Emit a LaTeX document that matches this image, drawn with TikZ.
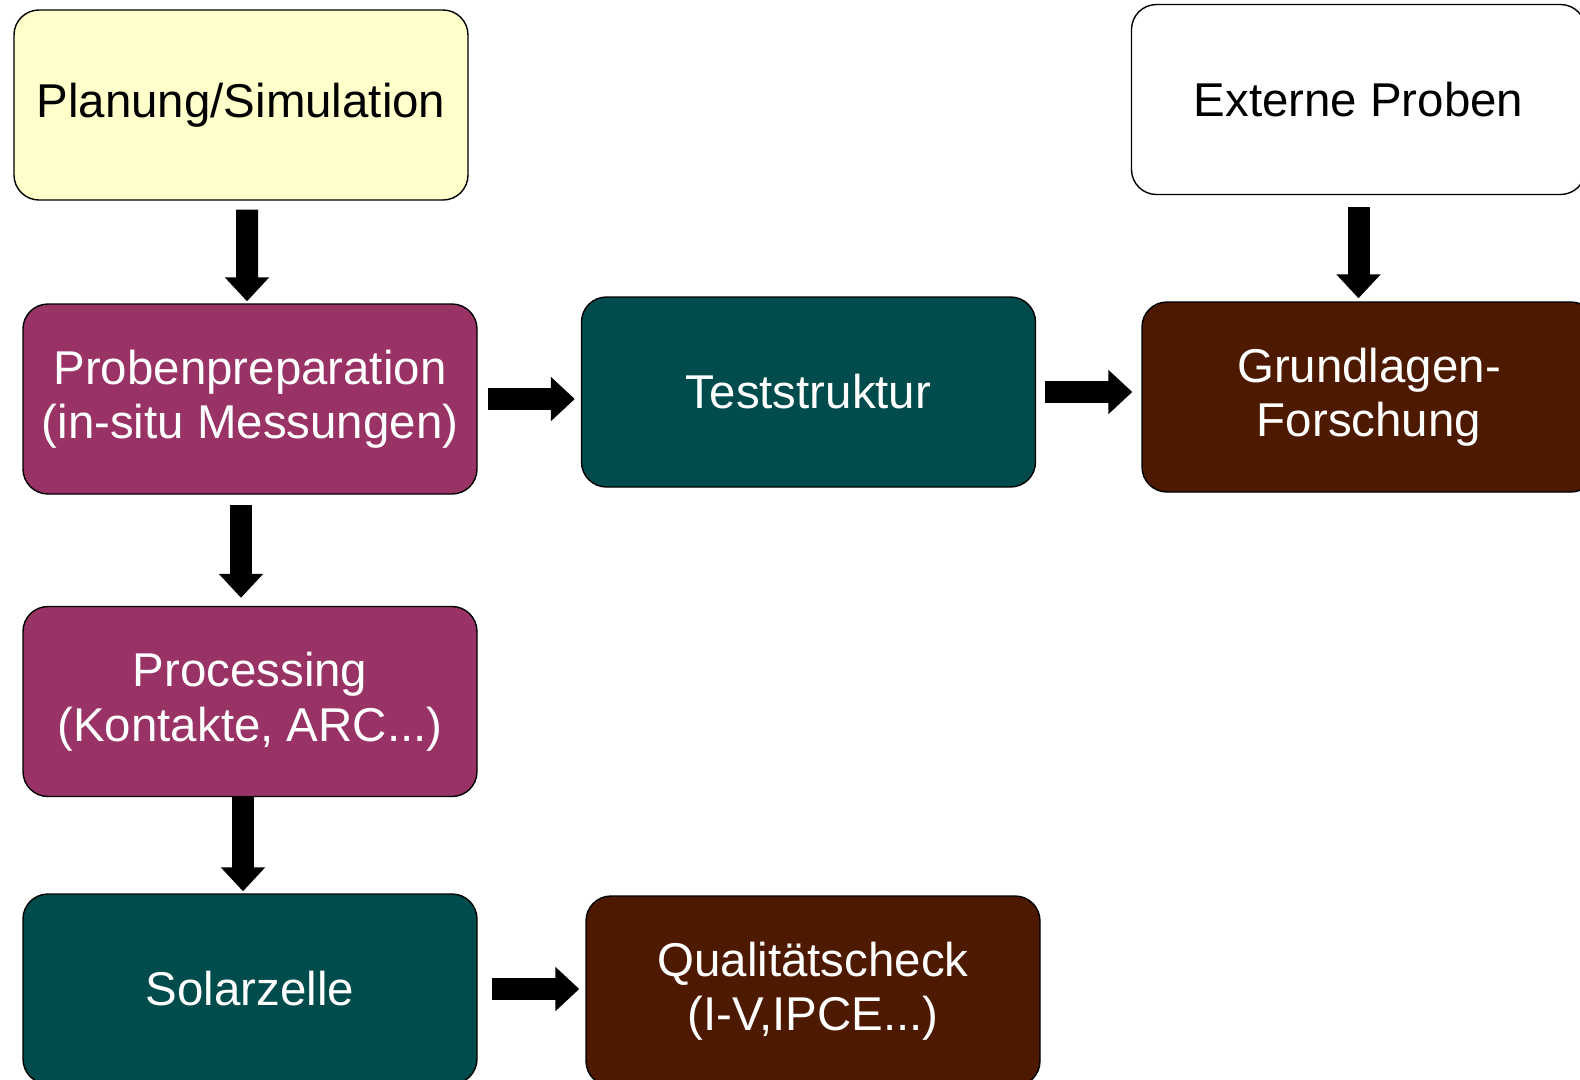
\documentclass[tikz,border=0pt]{standalone}
\usepackage{fontspec}
\setmainfont{Liberation Sans}
\usepackage{tikz}
\usetikzlibrary{positioning,arrows.meta}
\definecolor{plum}{HTML}{993366}
\definecolor{teal}{HTML}{004C4C}
\definecolor{rust}{HTML}{4D1A00}
\definecolor{paleyellow}{HTML}{FFFFCC}
\tikzset{
  blockarrow/.style={-{Triangle[length=0.48cm, width=0.86cm]}, line width=0.44cm},
  stagebox/.style={draw=black, line width=0.8pt, rounded corners=0.5cm, minimum width=9.08cm, minimum height=3.8cm, align=center, font=\fontsize{27}{31}\selectfont},
  planbox/.style={stagebox, fill=paleyellow, text=black},
  extbox/.style={stagebox, fill=white, text=black},
  prepbox/.style={stagebox, fill=plum, text=white},
  structbox/.style={stagebox, fill=teal, text=white},
  resultbox/.style={stagebox, fill=rust, text=white}
}
\begin{document}
\begin{tikzpicture}
  \useasboundingbox (0,0) rectangle (31.6,-21.58);
  \node[planbox] (plan) at (4.82,-2.10) {Planung/Simulation};
  \node[extbox] (ext) at (27.17,-1.99) {Externe Proben};
  \node[prepbox] (prep) at (5.00,-7.98) {Probenpreparation\\(in-situ Messungen)};
  \node[structbox] (test) at (16.17,-7.84) {Teststruktur};
  \node[resultbox] (grund) at (27.38,-7.94) {Grundlagen-\\Forschung};
  \node[prepbox] (proc) at (5.00,-14.03) {Processing\\(Kontakte, ARC...)};
  \node[structbox] (solar) at (5.00,-19.78) {Solarzelle};
  \node[resultbox] (qual) at (16.26,-19.82) {Qualitätscheck\\(I-V,IPCE...)};
  % block arrows
  \draw[blockarrow, shorten <=0.18cm, shorten >=0.04cm] ([xshift=0.12cm]plan.south) -- ([xshift=-0.06cm]prep.north);
  \draw[blockarrow, shorten <=0.2cm, shorten >=0.12cm] (prep.east) -- (prep.east -| test.west);
  \draw[blockarrow, shorten <=0.18cm, shorten >=0.18cm] (test.east) -- (test.east -| grund.west);
  \draw[blockarrow, shorten <=0.24cm, shorten >=0.06cm] (ext.south) -- (ext.south |- grund.north);
  \draw[blockarrow, shorten <=0.2cm, shorten >=0.16cm] ([xshift=-0.18cm]prep.south) -- ([xshift=-0.18cm]prep.south |- proc.north);
  \draw[blockarrow, shorten >=0.04cm] ([xshift=-0.14cm]proc.south) -- ([xshift=-0.14cm]proc.south |- solar.north);
  \draw[blockarrow, shorten <=0.28cm, shorten >=0.12cm] (solar.east) -- (solar.east -| qual.west);
\end{tikzpicture}
\end{document}
